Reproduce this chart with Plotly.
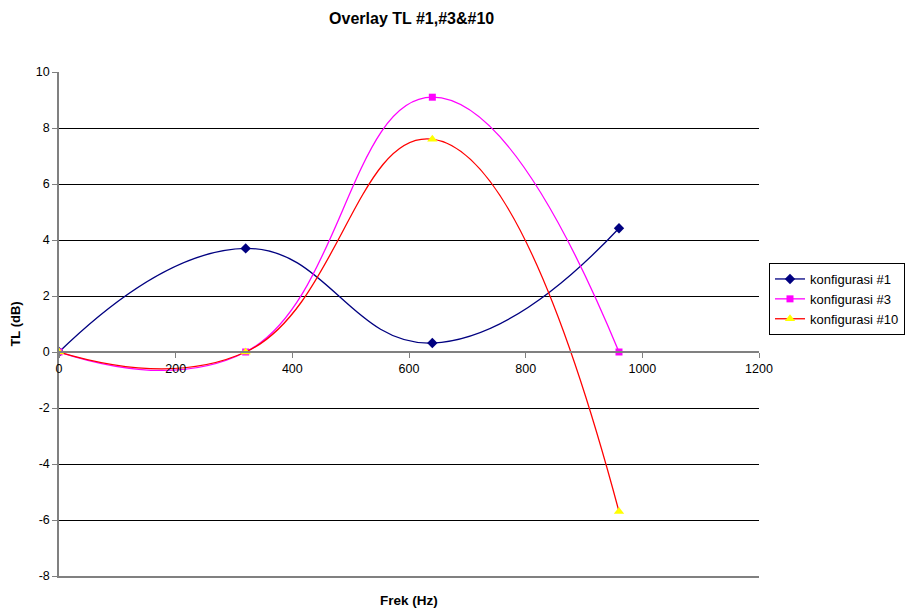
import plotly.graph_objects as go

# Frequency points (Hz) and transmission loss (dB) for each configuration
frek = [0, 320, 640, 960]
tl_konf1 = [0, 3.7, 0.32, 4.42]
tl_konf3 = [0, 0, 9.1, 0]
tl_konf10 = [0, 0, 7.6, -5.7]

x_ticks = [0, 200, 400, 600, 800, 1000, 1200]
y_ticks = [-8, -6, -4, -2, 0, 2, 4, 6, 8, 10]
y_tick_labels = ["-8", "-6", "-4", "-2", "0", "2", "4", "6", "8", "10"]

FONT = "Liberation Sans, Arial, sans-serif"
SMOOTH = 1.3

fig = go.Figure()

fig.add_trace(go.Scatter(
    x=frek, y=tl_konf1, name="konfigurasi #1", mode="lines+markers",
    line=dict(color="#000080", width=1.3, shape="spline", smoothing=SMOOTH),
    marker=dict(symbol="diamond", size=8, color="#000080"),
))
fig.add_trace(go.Scatter(
    x=frek, y=tl_konf3, name="konfigurasi #3", mode="lines+markers",
    line=dict(color="#FF00FF", width=1.3, shape="spline", smoothing=SMOOTH),
    marker=dict(symbol="square", size=7, color="#FF00FF"),
))
fig.add_trace(go.Scatter(
    x=frek, y=tl_konf10, name="konfigurasi #10", mode="lines+markers",
    line=dict(color="#FF0000", width=1.3, shape="spline", smoothing=SMOOTH),
    marker=dict(symbol="triangle-up", size=9, color="#FFFF00"),
))

# Bottom border of the plot area
fig.add_trace(go.Scatter(x=[None], y=[None], xaxis="x2", showlegend=False,
                         hoverinfo="skip"))

fig.update_layout(
    width=913, height=609,
    margin=dict(l=59, r=154, t=72, b=33, autoexpand=False),
    paper_bgcolor="white", plot_bgcolor="white",
    font=dict(family=FONT, size=12, color="black"),
    title=dict(text="<b>Overlay TL #1,#3&#10</b>", x=(372 + 548) / 2 / 913,
               xanchor="center", xref="paper", y=1 - 18 / 609,
               yanchor="middle", font=dict(size=16)),
    xaxis=dict(
        range=[0, 1200], tickvals=x_ticks, showgrid=False, zeroline=False,
        anchor="free", position=8 / 18,
        showline=True, linecolor="#808080", linewidth=2,
        ticks="outside", ticklen=5, tickcolor="#808080",
        tickfont=dict(size=12.5),
    ),
    xaxis2=dict(
        range=[0, 1200], overlaying="x", anchor="y", side="bottom",
        showline=True, linecolor="#808080", linewidth=2,
        showticklabels=False, ticks="", showgrid=False, zeroline=False,
    ),
    yaxis=dict(
        range=[-8, 10], tickvals=y_ticks, ticktext=y_tick_labels,
        showgrid=True, gridcolor="black", gridwidth=1, zeroline=False,
        showline=True, linecolor="#808080", linewidth=1.5,
        ticks="outside", ticklen=5, tickcolor="#808080",
        tickfont=dict(size=12.5),
        title=dict(text="<b>TL (dB)</b>", font=dict(size=13), standoff=12),
    ),
    legend=dict(
        x=(769 - 59) / 700, y=(576 - 263) / 504, xanchor="left", yanchor="top",
        bordercolor="black", borderwidth=1, bgcolor="white",
        font=dict(size=13), tracegroupgap=0,
    ),
    showlegend=True,
    annotations=[dict(
        text="<b>Frek (Hz)</b>", xref="paper", yref="paper",
        x=((380 + 437) / 2 - 59) / 700, y=-24 / 504,
        xanchor="center", yanchor="middle",
        showarrow=False, font=dict(size=13.5),
    )],
)

fig.write_html("out.html")
